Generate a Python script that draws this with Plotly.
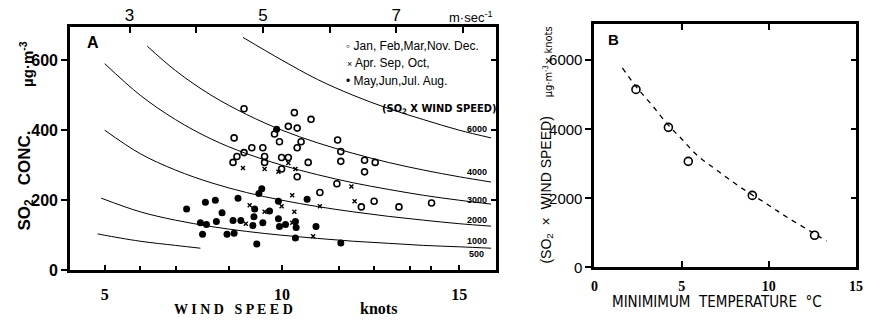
import plotly.graph_objects as go

W, H = 870, 324

# ---------------- Panel A data (wind speed in knots, SO2 in ug/m3) ----------------
winter_x = [8.93, 10.35, 10.82, 10.18, 10.43, 9.79, 8.65, 9.93, 10.54, 11.57, 9.15, 9.46,
            10.43, 11.66, 8.73, 8.93, 8.62, 9.51, 9.51, 9.99, 10.18, 10.74, 11.66, 9.99,
            10.43, 11.55, 11.07, 12.33, 12.63, 12.33, 12.24, 12.60, 13.30, 14.22]
winter_y = [461, 450, 431, 411, 406, 389, 378, 367, 367, 372, 350, 350,
            350, 339, 325, 336, 308, 325, 308, 322, 322, 308, 311, 289,
            267, 247, 222, 314, 308, 281, 181, 197, 181, 192]

spring_x = [10.18, 8.90, 9.51, 9.90, 10.38, 11.96, 10.29, 11.07, 9.09, 9.99, 9.51, 10.35,
            8.98, 10.29, 10.88, 12.05]
spring_y = [306, 292, 289, 281, 289, 239, 214, 183, 186, 183, 167, 167,
            133, 136, 97, 197]

summer_x = [9.85, 7.31, 7.84, 8.12, 7.70, 7.87, 7.76, 8.31, 8.15, 8.45, 8.62, 8.65,
            8.76, 8.84, 9.18, 9.21, 9.23, 9.29, 9.43, 9.35, 9.46, 9.65, 9.90, 9.90,
            9.93, 10.10, 10.38, 10.40, 10.38, 10.71, 10.96, 11.66]
summer_y = [403, 175, 194, 200, 136, 131, 103, 164, 139, 103, 142, 106,
            206, 142, 128, 153, 175, 75, 233, 219, 136, 169, 197, 147,
            125, 131, 139, 122, 92, 203, 125, 78]

# iso-lines of SO2 x wind speed
c6000_x = [8.9, 10, 11, 12, 13, 14, 15, 15.9]
c6000_y = [665, 600, 545, 500, 462, 430, 400, 378]
c4000_x = [6.2, 7, 8, 9, 10, 11, 12, 13, 14, 15, 15.9]
c4000_y = [640, 570, 500, 445, 400, 364, 334, 308, 286, 267, 252]
c3000_x = [5.0, 6, 7, 8, 9, 10, 11, 12, 13, 14, 15, 15.9]
c3000_y = [590, 500, 430, 375, 333, 300, 273, 250, 231, 214, 200, 189]
c2000_x = [5.0, 6, 7, 8, 9, 10, 11, 12, 13, 14, 15, 15.9]
c2000_y = [400, 333, 286, 250, 222, 200, 182, 167, 154, 143, 133, 126]
c1000_x = [4.9, 6, 7, 8, 9, 10, 11, 12, 13, 14, 15, 15.9]
c1000_y = [206, 167, 143, 125, 111, 100, 91, 83, 77, 71, 67, 63]
c500_x = [4.8, 5, 6, 7, 7.7]
c500_y = [104, 100, 83, 71, 63]

curve_labels = ["6000", "4000", "3000", "2000", "1000", "500"]
legend_labels = ["Jan, Feb,Mar,Nov. Dec.", "Apr. Sep, Oct,", "May,Jun,Jul. Aug."]

# ---------------- Panel B data ----------------
tmin_x = [2.38, 4.24, 5.38, 9.05, 12.62]
prod_y = [5155, 4056, 3070, 2085, 930]
fit_x = [1.6, 2.4, 3.3, 4.2, 5.0, 5.9, 7.0, 8.4, 9.9, 11.0, 12.4, 13.3]
fit_y = [5775, 5230, 4700, 4140, 3720, 3240, 2820, 2310, 1830, 1465, 1040, 760]

# ticks
a_xticks = [5, 10, 15]
a_xminor = [6, 7, 8.5, 11.6, 12.6, 13.6, 14.2]
a_yticks = [0, 200, 400, 600]
ms_ticks = [3, 5, 7]
ms_minor = [4, 6, 8]
b_xticks = [0, 5, 10, 15]
b_yticks = [0, 2000, 4000, 6000]


def px(x):
    return x / W


def py(y):
    return 1 - y / H


fig = go.Figure()

for cx, cy in [(c6000_x, c6000_y), (c4000_x, c4000_y), (c3000_x, c3000_y),
               (c2000_x, c2000_y), (c1000_x, c1000_y), (c500_x, c500_y)]:
    fig.add_trace(go.Scatter(x=cx, y=cy, mode="lines", line=dict(color="black", width=1, shape="spline"),
                             xaxis="x", yaxis="y", showlegend=False, hoverinfo="skip"))

fig.add_trace(go.Scatter(x=winter_x, y=winter_y, mode="markers",
                         marker=dict(symbol="circle-open", size=6, color="black", line=dict(width=1.6)),
                         xaxis="x", yaxis="y", showlegend=False))
fig.add_trace(go.Scatter(x=spring_x, y=spring_y, mode="markers",
                         marker=dict(symbol="x-thin", size=4, color="black", line=dict(width=1.4, color="black")),
                         xaxis="x", yaxis="y", showlegend=False))
fig.add_trace(go.Scatter(x=summer_x, y=summer_y, mode="markers",
                         marker=dict(symbol="circle", size=7, color="black"),
                         xaxis="x", yaxis="y", showlegend=False))

# dummy traces to register overlay axes
fig.add_trace(go.Scatter(x=[], y=[], xaxis="x3", yaxis="y", showlegend=False))
fig.add_trace(go.Scatter(x=[], y=[], xaxis="x", yaxis="y3", showlegend=False))
fig.add_trace(go.Scatter(x=[], y=[], xaxis="x2", yaxis="y4", showlegend=False))

# Panel B
fig.add_trace(go.Scatter(x=fit_x, y=fit_y, mode="lines",
                         line=dict(color="black", width=1.3, dash="5px,5px", shape="spline"),
                         xaxis="x2", yaxis="y2", showlegend=False, hoverinfo="skip"))
fig.add_trace(go.Scatter(x=tmin_x, y=prod_y, mode="markers",
                         marker=dict(symbol="circle-open", size=8, color="black", line=dict(width=1.6)),
                         xaxis="x2", yaxis="y2", showlegend=False))

sans = "Liberation Sans, Arial, sans-serif"
serif = "Liberation Serif, Times New Roman, serif"
narrow = "Liberation Sans Narrow, DejaVu Sans Condensed, Liberation Sans, sans-serif"

common = dict(showgrid=False, zeroline=False, linecolor="black", tickcolor="black")

fig.update_layout(
    width=W, height=H, margin=dict(l=0, r=0, t=0, b=0),
    paper_bgcolor="white", plot_bgcolor="white", showlegend=False,
    xaxis=dict(domain=[px(67), px(498)], range=[4.025, 16.03], anchor="y",
               tickmode="array", tickvals=a_xticks,
               minor=dict(tickvals=a_xminor, ticks="inside", ticklen=4, tickwidth=2, tickcolor="black"),
               ticks="inside", ticklen=5, tickwidth=2, showline=True, linewidth=3, mirror=True,
               tickfont=dict(family=serif, size=16, color="black", weight="bold"), ticklabelstandoff=8,
               **common),
    yaxis=dict(domain=[py(278), py(28)], range=[0, 694], anchor="x",
               tickmode="array", tickvals=a_yticks,
               ticks="outside", ticklen=6, tickwidth=2, showline=True, linewidth=3, mirror=True,
               tickfont=dict(family=sans, size=16, color="black", weight="bold"), ticklabelstandoff=0,
               **common),
    xaxis3=dict(overlaying="x", side="top", anchor="y", range=[2.11, 8.49],
                tickmode="array", tickvals=ms_ticks,
                minor=dict(tickvals=ms_minor, ticks="inside", ticklen=6, tickwidth=2, tickcolor="black"),
                ticks="inside", ticklen=6, tickwidth=2, showline=False,
                tickfont=dict(family=sans, size=17, color="black"), ticklabelstandoff=2,
                **common),
    yaxis3=dict(overlaying="y", side="right", anchor="x", range=[0, 694],
                tickmode="array", tickvals=[200, 400, 600], ticks="inside", ticklen=5, tickwidth=2,
                showticklabels=False, showline=False, **common),
    xaxis2=dict(domain=[px(598), px(863)], range=[0, 15], anchor="y2",
                tickmode="array", tickvals=b_xticks,
                ticks="inside", ticklen=6, tickwidth=2, showline=True, linewidth=3, mirror="ticks",
                tickfont=dict(family=serif, size=14, color="black", weight="bold"), ticklabelstandoff=4,
                **common),
    yaxis2=dict(domain=[py(275), py(25)], range=[0, 7040], anchor="x2",
                tickmode="array", tickvals=b_yticks,
                ticks="outside", ticklen=6, tickwidth=2, showline=True, linewidth=3, mirror=True,
                tickfont=dict(family=sans, size=15, color="black"), ticklabelstandoff=0,
                **common),
    yaxis4=dict(overlaying="y2", side="right", anchor="x2", range=[0, 7040],
                tickmode="array", tickvals=[2000, 4000, 6000], ticks="inside", ticklen=5, tickwidth=2,
                showticklabels=False, showline=False, **common),
)

ann = []


def add(text, x, y, size, family=sans, weight="normal", xanchor="center", yanchor="middle", angle=0):
    ann.append(dict(text=text, x=px(x), y=py(y), xref="paper", yref="paper", showarrow=False,
                    xanchor=xanchor, yanchor=yanchor, textangle=angle,
                    font=dict(family=family, size=size, color="black", weight=weight)))


# Panel A texts
add("A", 90, 44, 16, weight="bold")
add("m·sec<sup>-1</sup>", 472, 17, 13)
add("◦ " + legend_labels[0], 344, 47, 12, xanchor="left")
add("<span style='font-size:9px'>×</span> " + legend_labels[1], 345, 65, 12, xanchor="left")
add("• " + legend_labels[2], 344, 83, 12, xanchor="left")
add("(SO<sub>2</sub> X WIND SPEED)", 441, 112, 11, family=narrow, weight="bold")
for lab, yy in zip(curve_labels, [133, 177, 206, 226, 248, 261]):
    add(lab, 479, yy, 9, weight="bold")
add("SO<sub>2</sub>   CONC.", 22, 186, 17, weight="bold", angle=-90)
add("µg·m<sup>-3</sup>", 22, 66, 15, weight="bold", angle=-90)
add("W I N D   S P E E D", 232, 318, 14, family=serif, weight="bold")
add("knots", 379, 317, 16, family=serif, weight="bold")

# Panel B texts
add("B", 617, 41, 15, weight="bold")
add("(SO<sub>2</sub>  ×  WIND SPEED)", 549, 196, 14, angle=-90)
add("µg·m<sup>-3</sup>× knots", 551, 64, 11, family=narrow, angle=-90)
add("MINIMIMUM  TEMPERATURE  °C", 722, 311, 15, family=narrow)

fig.update_layout(annotations=ann)

fig.write_html("out.html")
